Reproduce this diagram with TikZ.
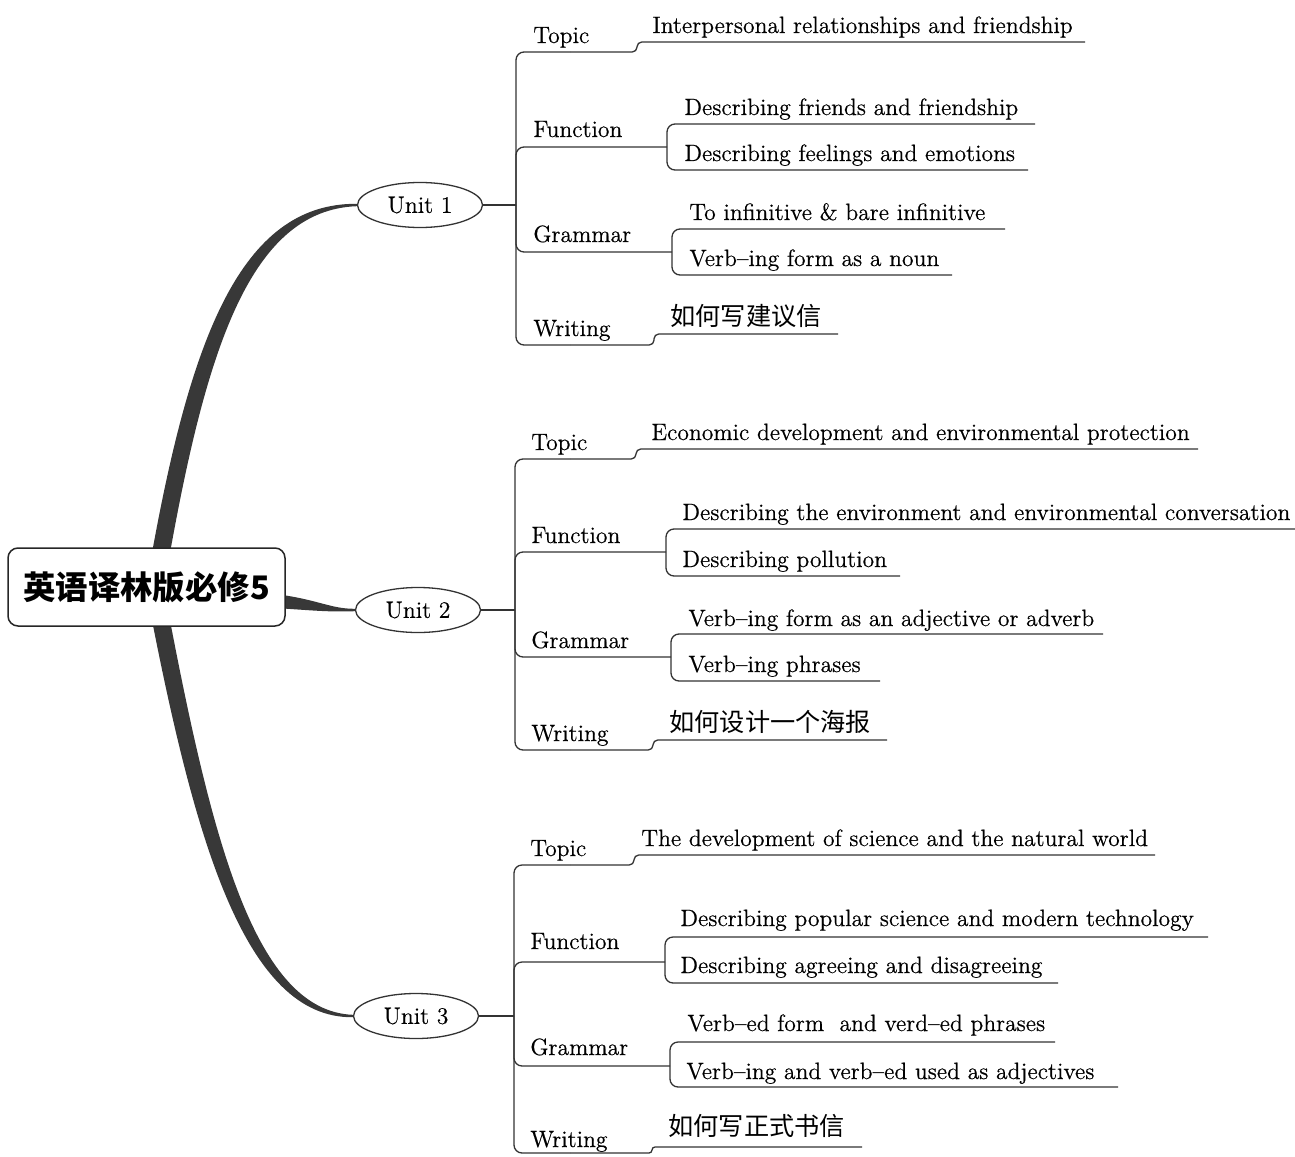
\documentclass[tikz,border=0pt]{standalone}
\usepackage{fontspec}
\newfontfamily\cjk{Noto Sans CJK SC}
\newfontfamily\txt{Latin Modern Roman}[Ligatures=TeX,FakeBold=0.5]
\usetikzlibrary{shapes.geometric,calc,backgrounds}
\begin{document}
\begin{tikzpicture}[x=0.5pt,y=-0.5pt,
  lbl/.style={anchor=base west,inner sep=0pt,font=\txt\fontsize{11.8}{13}\selectfont},
  zh/.style={anchor=base west,inner sep=0pt,font=\cjk\fontsize{12.6}{14}\selectfont},
  ln/.style={draw=black!80,line width=0.65pt,rounded corners=4pt},
  unitnode/.style={ellipse,draw=black!80,line width=0.65pt,fill=white,minimum width=62.5pt,minimum height=22.5pt,inner sep=0pt,font=\txt\fontsize{11.8}{13}\selectfont},
  rootbox/.style={rectangle,rounded corners=5pt,draw=black!85,line width=0.75pt,fill=white,minimum width=138.5pt,minimum height=39pt,inner sep=0pt,font=\cjk\bfseries\fontsize{16.2}{18}\selectfont},
  branch/.style={fill=black!78,draw=none}]
\useasboundingbox (0,0) rectangle (1295,1156);

% central nodes
\node[rootbox] (root) at (146.5,587) {英语译林版必修5};
\node[unitnode] (u1) at (420,205) {Unit 1};
\node[unitnode] (u2) at (418,610) {Unit 2};
\node[unitnode] (u3) at (416,1016) {Unit 3};

% thick branches
\begin{pgfonlayer}{background}
\fill[branch] ($(root.north)+(4,14)$) .. controls (190,340) and (240,203) .. ($(u1.west)+(0,-1.2)$)
  -- ($(u1.west)+(0,1.2)$) .. controls (250,210) and (206,350) .. ($(root.north)+(22,14)$) -- cycle;
\fill[branch] ($(root.east)+(-10,7)$) .. controls (320,600) and (330,608.8) .. ($(u2.west)+(0,-1.2)$)
  -- ($(u2.west)+(0,1.2)$) .. controls (330,612) and (320,611) .. ($(root.east)+(-10,21)$) -- cycle;
\fill[branch] ($(root.south)+(4,-14)$) .. controls (195,840) and (245,1018.5) .. ($(u3.west)+(0,1.2)$)
  -- ($(u3.west)+(0,-1.2)$) .. controls (255,1011) and (212,840) .. ($(root.south)+(22,-14)$) -- cycle;
\end{pgfonlayer}

% ---------------- Unit 1 ----------------
\node[lbl] (t1) at (533,43) {Topic};
\node[lbl] (t1a) at (652,33) {Interpersonal relationships and friendship};
\node[lbl] (f1) at (533,137) {Function};
\node[lbl] (f1a) at (684,115) {Describing friends and friendship};
\node[lbl] (f1b) at (684,161) {Describing feelings and emotions};
\node[lbl] (g1) at (533,242) {Grammar};
\node[lbl] (g1a) at (689,220) {To infinitive \& bare infinitive};
\node[lbl] (g1b) at (689,266) {Verb–ing form as a noun};
\node[lbl] (w1) at (533,336) {Writing};
\node[zh] (w1a) at (670,325) {如何写建议信};

\coordinate (j1) at (516,205);
\draw[ln] (u1.east) -- (j1);
\draw[ln] (j1) -- (516,52) -- (570,52);
\draw[ln,rounded corners=2.4pt] (570,52) -- (637,52) -- (637,42) -- (1085,42);
\draw[ln] (j1) -- (516,147) -- (667,147);
\draw[ln] (1035,124) -- (667,124) -- (667,170) -- (1028,170);
\draw[ln] (j1) -- (516,252) -- (672,252);
\draw[ln] (1005,229) -- (672,229) -- (672,275) -- (952,275);
\draw[ln] (j1) -- (516,345) -- (570,345);
\draw[ln,rounded corners=2.4pt] (570,345) -- (654,345) -- (654,334) -- (838,334);

% ---------------- Unit 2 ----------------
\node[lbl] (t2) at (531,450) {Topic};
\node[lbl] (t2a) at (651,440) {Economic development and environmental protection};
\node[lbl] (f2) at (531,543) {Function};
\node[lbl] (f2a) at (682,520) {Describing the environment and environmental conversation};
\node[lbl] (f2b) at (682,567) {Describing pollution};
\node[lbl] (g2) at (531,648) {Grammar};
\node[lbl] (g2a) at (688,626) {Verb–ing form as an adjective or adverb};
\node[lbl] (g2b) at (688,672) {Verb–ing phrases};
\node[lbl] (w2) at (531,741) {Writing};
\node[zh] (w2a) at (669,731) {如何设计一个海报};

\coordinate (j2) at (515,610);
\draw[ln] (u2.east) -- (j2);
\draw[ln] (j2) -- (515,459) -- (570,459);
\draw[ln,rounded corners=2.4pt] (570,459) -- (636,459) -- (636,449) -- (1198,449);
\draw[ln] (j2) -- (515,552) -- (666,552);
\draw[ln] (1295,529) -- (666,529) -- (666,576) -- (900,576);
\draw[ln] (j2) -- (515,657) -- (671,657);
\draw[ln] (1103,634) -- (671,634) -- (671,681) -- (880,681);
\draw[ln] (j2) -- (515,750) -- (570,750);
\draw[ln,rounded corners=2.4pt] (570,750) -- (653,750) -- (653,740) -- (887,740);

% ---------------- Unit 3 ----------------
\node[lbl] (t3) at (530,856) {Topic};
\node[lbl] (t3a) at (641,846) {The development of science and the natural world};
\node[lbl] (f3) at (530,949) {Function};
\node[lbl] (f3a) at (680,926) {Describing popular science and modern technology};
\node[lbl] (f3b) at (680,973) {Describing agreeing and disagreeing};
\node[lbl] (g3) at (530,1055) {Grammar};
\node[lbl] (g3a) at (687,1031) {Verb–ed form~ and verd–ed phrases};
\node[lbl] (g3b) at (686,1079) {Verb–ing and verb–ed used as adjectives};
\node[lbl] (w3) at (530,1147) {Writing};
\node[zh] (w3a) at (668,1135) {如何写正式书信};

\coordinate (j3) at (514,1016);
\draw[ln] (u3.east) -- (j3);
\draw[ln] (j3) -- (514,865) -- (570,865);
\draw[ln,rounded corners=2.4pt] (570,865) -- (634,865) -- (634,855) -- (1155,855);
\draw[ln] (j3) -- (514,962) -- (665,962);
\draw[ln] (1208,937) -- (665,937) -- (665,983) -- (1058,983);
\draw[ln] (j3) -- (514,1066) -- (670,1066);
\draw[ln] (1055,1042) -- (670,1042) -- (670,1087) -- (1118,1087);
\draw[ln] (j3) -- (514,1153) -- (570,1153);
\draw[ln,rounded corners=1.5pt] (570,1153) -- (652,1153) -- (652,1147) -- (862,1147);
\end{tikzpicture}
\end{document}
